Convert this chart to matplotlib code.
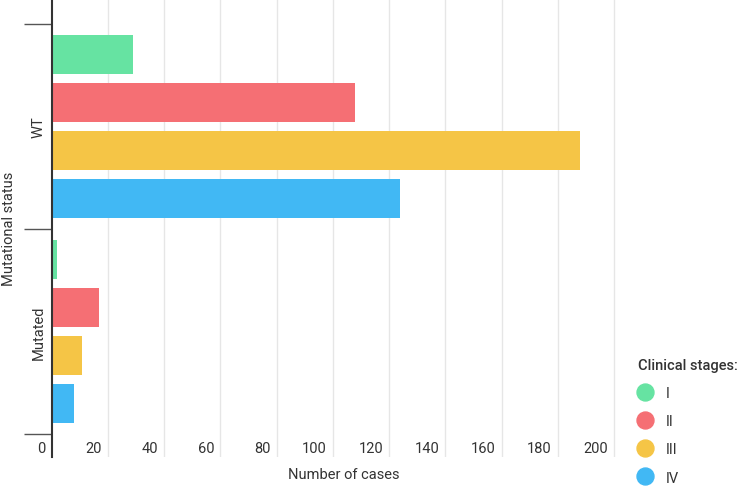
import matplotlib
matplotlib.use("Agg")
import matplotlib.pyplot as plt
from matplotlib.lines import Line2D
from matplotlib.transforms import ScaledTranslation, blended_transform_factory
import numpy as np

plt.rcParams['font.family'] = ['Roboto', 'DejaVu Sans']

# data
groups = ["WT", "Mutated"]
stages = ["I", "II", "III", "IV"]
wt_counts = [29, 108, 188, 124]
mutated_counts = [2, 17, 11, 8]
stage_colors = ["#66e3a2", "#f56f74", "#f5c546", "#41b8f4"]
x_ticks = [0, 20, 40, 60, 80, 100, 120, 140, 160, 180, 200]

W, H = 740, 489
fig = plt.figure(figsize=(W / 100, H / 100), dpi=100)
ax = fig.add_axes([51.5 / W, 31 / H, 585 / W, 458 / H])

slot = 0.234
bar_h = 0.188
counts = [wt_counts, mutated_counts]
for k, stage in enumerate(stages):
    vals = [c[k] for c in counts]
    ypos = np.arange(len(groups)) + (k - 1.5) * slot
    ax.barh(ypos, vals, height=bar_h, color=stage_colors[k], label=stage, zorder=3)

ax.set_xlim(0, 208)
ax.set_ylim(1.5 + 23 / 205, -0.5 - 25 / 205)

# vertical grid
for v in x_ticks[1:]:
    ax.axvline(v, color="#e6e6e6", lw=1, zorder=1)

for s in ["top", "right", "bottom"]:
    ax.spines[s].set_visible(False)
ax.spines["left"].set_color("#333333")
ax.spines["left"].set_linewidth(1.5)
ax.spines["left"].set_zorder(4)

# category boundaries as long ticks, names as minor tick labels
ax.set_yticks([-0.5, 0.5, 1.5])
ax.set_yticklabels([])
ax.tick_params(axis="y", which="major", length=20, width=1, color="#555555")
ax.set_yticks([0, 1], minor=True)
ax.set_yticklabels(groups, minor=True, rotation=90, va="center",
                   fontsize=10.5, color="#333333")
ax.tick_params(axis="y", which="minor", length=0, pad=4.5)

# x tick labels sit inside the plot, left of the grid line
ax.set_xticks([])
tr = blended_transform_factory(ax.transData, ax.transAxes) + \
    ScaledTranslation(-0.06, 0.09, fig.dpi_scale_trans)
for v in x_ticks:
    ax.text(v, 0, str(v), transform=tr, ha="right", va="center",
            fontsize=10.5, color="#333333")

ax.set_xlabel("Number of cases", fontsize=10.5, color="#333333", va="center")
ax.xaxis.set_label_coords(0.5, -0.038)
ax.set_ylabel("Mutational status", fontsize=10.5, color="#333333", va="center")
ax.yaxis.set_label_coords(-0.0726, 0.5)

handles = [Line2D([], [], marker="o", linestyle="none", markersize=12.2,
                  markerfacecolor=c, markeredgecolor=c) for c in stage_colors]
leg = fig.legend(handles, stages, title="Clinical stages:", loc="upper left",
                 bbox_to_anchor=(638 / W, 1 - 359 / H), frameon=False,
                 fontsize=10.5, title_fontsize=10.5, borderpad=0,
                 handlelength=1, handletextpad=0.87, labelspacing=0.97,
                 alignment="left", borderaxespad=0)
leg.get_title().set_fontweight("medium")
leg.get_title().set_color("#333333")
for t in leg.get_texts():
    t.set_color("#333333")

fig.savefig("out.png", dpi=100)
